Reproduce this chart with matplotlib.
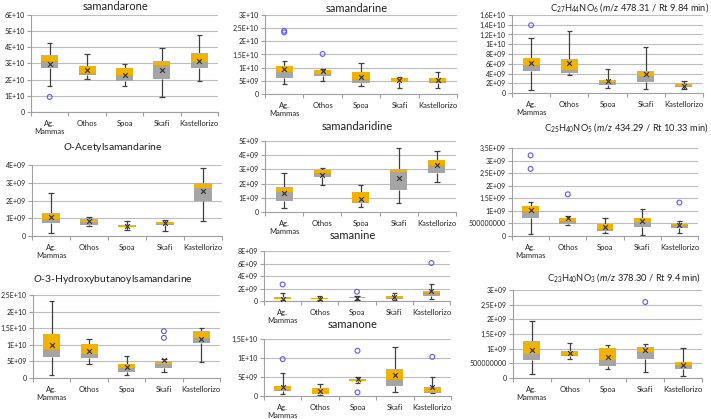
import matplotlib
matplotlib.use("Agg")
import matplotlib.pyplot as plt
import numpy as np

plt.rcParams['font.family'] = ['Lato', 'DejaVu Sans']
plt.rcParams['mathtext.fontset'] = 'custom'
plt.rcParams['mathtext.rm'] = 'Lato'
plt.rcParams['mathtext.it'] = 'Lato:italic'

sites = ["Ag.\nMammas", "Othos", "Spoa", "Skafi", "Kastellorizo"]

# each row: whisker low, Q1, median, Q3, whisker high, mean  (units of 1e9)
samandarone = [[16.0, 27.4, 31.5, 35.3, 42.9, 29.9],
               [20.2, 22.9, 23.9, 28.5, 35.7, 26.2],
               [16.1, 19.2, 22.9, 27.0, 29.5, 22.7],
               [9.5, 20.4, 28.9, 31.5, 39.4, 26.0],
               [19.4, 27.0, 31.1, 36.3, 47.6, 31.3]]
samandarone_out = [[9.3], [], [], [], []]

samandarine = [[3.8, 6.1, 8.5, 10.7, 12.6, 9.5],
               [4.8, 6.7, 7.6, 9.1, 9.4, 8.6],
               [3.0, 4.3, 5.6, 8.3, 11.7, 6.6],
               [2.2, 4.4, 4.7, 6.0, 6.6, 5.3],
               [2.2, 4.3, 5.1, 6.0, 8.3, 5.3]]
samandarine_out = [[24.0, 23.4], [15.2], [], [], []]

c27 = [[0.55, 4.5, 5.7, 7.2, 11.2, 6.2],
       [3.65, 4.1, 4.7, 7.0, 12.8, 6.2],
       [1.1, 1.72, 2.28, 2.76, 5.0, 2.4],
       [0.9, 2.28, 3.45, 4.5, 9.5, 3.8],
       [0.9, 1.24, 1.45, 1.8, 2.48, 1.52]]
c27_out = [[13.9], [], [], [], []]

acetyl = [[0.17, 0.75, 0.98, 1.32, 2.4, 1.09],
          [0.55, 0.62, 0.79, 0.96, 1.08, 0.85],
          [0.34, 0.49, 0.53, 0.60, 0.83, 0.55],
          [0.28, 0.62, 0.70, 0.81, 0.92, 0.74],
          [0.83, 1.98, 2.72, 2.96, 3.81, 2.55]]
acetyl_out = [[], [], [], [], []]

samandaridine = [[0.26, 0.75, 1.43, 1.75, 2.73, 1.33],
                 [1.87, 2.43, 2.78, 2.97, 3.13, 2.64],
                 [0.35, 0.63, 0.68, 1.38, 1.87, 0.93],
                 [0.63, 1.52, 2.85, 3.01, 4.49, 2.38],
                 [2.10, 2.78, 3.32, 3.67, 4.32, 3.29]]
samandaridine_out = [[], [], [], [], []]

c25 = [[0.07, 0.73, 0.98, 1.18, 1.35, 1.05],
       [0.42, 0.49, 0.58, 0.73, 0.78, 0.72],
       [0.12, 0.19, 0.29, 0.49, 0.72, 0.36],
       [0.05, 0.37, 0.54, 0.73, 1.09, 0.60],
       [0.12, 0.32, 0.42, 0.49, 0.58, 0.45]]
c25_out = [[3.21, 2.67], [1.66], [], [], [1.33]]

hydroxy = [[0.8, 6.2, 8.6, 13.3, 23.1, 10.0],
           [4.3, 6.0, 7.2, 10.3, 11.8, 8.0],
           [0.8, 1.9, 3.1, 4.2, 6.5, 3.3],
           [1.8, 3.1, 4.3, 5.0, 5.6, 5.3],
           [4.8, 10.5, 12.0, 14.3, 15.0, 11.8]]
hydroxy_out = [[], [], [], [14.1, 12.1], []]

samanine = [[0.1, 0.3, 0.4, 0.65, 1.32, 0.37],
            [0.11, 0.26, 0.37, 0.48, 0.74, 0.37],
            [0.16, 0.48, 0.53, 0.58, 0.79, 0.45],
            [0.16, 0.32, 0.48, 0.74, 1.32, 0.58],
            [0.37, 0.85, 1.32, 1.59, 2.70, 1.64]]
samanine_out = [[2.65], [], [1.48], [], [6.08]]

samanone = [[0.44, 1.4, 1.6, 2.6, 6.0, 2.3],
            [0.3, 0.4, 0.5, 2.0, 3.2, 1.3],
            [3.5, 3.9, 4.0, 4.4, 5.1, 4.6],
            [0.96, 2.6, 4.4, 7.0, 12.8, 5.5],
            [0.7, 0.88, 1.1, 2.3, 5.1, 2.5]]
samanone_out = [[9.7], [], [11.9, 0.96], [], [10.3]]

c23 = [[0.15, 0.60, 0.82, 1.25, 1.95, 0.95],
       [0.66, 0.74, 0.78, 0.93, 1.21, 0.86],
       [0.32, 0.40, 0.63, 1.03, 1.12, 0.72],
       [0.21, 0.65, 0.87, 1.06, 1.17, 0.95],
       [0.07, 0.29, 0.43, 0.55, 1.03, 0.43]]
c23_out = [[], [], [], [2.59], []]

panels = [
    ("samandarone", samandarone, samandarone_out, 60, 10,
     ["0", "1E+10", "2E+10", "3E+10", "4E+10", "5E+10", "6E+10"]),
    ("samandarine", samandarine, samandarine_out, 30, 5,
     ["0", "5E+09", "1E+10", "1,5E+10", "2E+10", "2,5E+10", "3E+10"]),
    (r"C$_{27}$H$_{44}$NO$_6$ ($m/z$ 478.31 / Rt 9.84 min)", c27, c27_out, 16, 2,
     ["0", "2E+09", "4E+09", "6E+09", "8E+09", "1E+10", "1,2E+10", "1,4E+10", "1,6E+10"]),
    (r"$O$-Acetylsamandarine", acetyl, acetyl_out, 4, 1,
     ["0", "1E+09", "2E+09", "3E+09", "4E+09"]),
    ("samandaridine", samandaridine, samandaridine_out, 5, 1,
     ["0", "1E+09", "2E+09", "3E+09", "4E+09", "5E+09"]),
    (r"C$_{25}$H$_{40}$NO$_5$ ($m/z$ 434.29 / Rt 10.33 min)", c25, c25_out, 3.5, 0.5,
     ["0", "500000000", "1E+09", "1,5E+09", "2E+09", "2,5E+09", "3E+09", "3,5E+09"]),
    (r"$O$-3-Hydroxybutanoylsamandarine", hydroxy, hydroxy_out, 25, 5,
     ["0", "5E+09", "1E+10", "1,5E+10", "2E+10", "2,5E+10"]),
    ("samanine", samanine, samanine_out, 8, 2,
     ["0", "2E+09", "4E+09", "6E+09", "8E+09"]),
    ("samanone", samanone, samanone_out, 15, 5,
     ["0", "5E+09", "1E+10", "1,5E+10"]),
    (r"C$_{23}$H$_{40}$NO$_3$ ($m/z$ 378.30 / Rt 9.4 min)", c23, c23_out, 3, 0.5,
     ["0", "500000000", "1E+09", "1,5E+09", "2E+09", "2,5E+09", "3E+09"]),
]

# pixel layout: axis left, right, top, zero line, title x, title y, title size
layout = [
    (31, 218, 15, 112, 116, 7, 8),
    (265, 457, 15, 94, 357, 8, 8),
    (512, 703, 15, 93, 630, 8, 6.7),
    (32, 222, 165, 236, 113, 147, 7.5),
    (265, 456, 141, 212, 357, 126, 8),
    (512, 698, 148, 236, 626, 128, 6.7),
    (33, 220, 295, 378, 113, 279, 7.5),
    (264, 450, 251, 301, 353, 235, 8),
    (264, 451, 339, 396, 353, 324, 8),
    (513, 702, 290, 378, 624, 278, 6.7),
]

W, H = 711, 419
GOLD = '#F2B200'
GRAY = '#A5A5A5'
DARK = '#404040'
BLUE = '#5A5AF5'

fig = plt.figure(figsize=(W / 100, H / 100), dpi=100)
fig.patch.set_facecolor('white')

for (title, stats, outl, ymax, step, ylabels), (l, r, t, b, tx, ty, tsz) in zip(panels, layout):
    ax = fig.add_axes([l / W, 1 - b / H, (r - l) / W, (b - t) / H])
    s = np.array(stats) * 1e9
    x = np.arange(len(sites))
    ax.bar(x, s[:, 2] - s[:, 1], bottom=s[:, 1], width=0.45, color=GRAY, zorder=3)
    ax.bar(x, s[:, 3] - s[:, 2], bottom=s[:, 2], width=0.45, color=GOLD, zorder=3)
    ax.vlines(x, s[:, 0], s[:, 1], color=DARK, lw=0.9, zorder=2)
    ax.vlines(x, s[:, 3], s[:, 4], color=DARK, lw=0.9, zorder=2)
    ax.hlines(s[:, 0], x - 0.07, x + 0.07, color=DARK, lw=0.9, zorder=2)
    ax.hlines(s[:, 4], x - 0.07, x + 0.07, color=DARK, lw=0.9, zorder=2)
    ax.scatter(x, s[:, 5], marker='x', s=12, color='#303030', lw=0.8, zorder=5)
    for i, o in enumerate(outl):
        if o:
            ax.scatter([i] * len(o), np.array(o) * 1e9, facecolors='none',
                       edgecolors=BLUE, s=12, lw=0.8, zorder=5)

    ax.set_xlim(-0.5, 4.5)
    ax.set_ylim(0, ymax * 1e9)
    yt = np.arange(len(ylabels)) * step * 1e9
    ax.set_yticks(yt)
    ax.set_yticklabels(ylabels, fontsize=5, color='#222222')
    ax.set_xticks(x)
    ax.set_xticklabels(sites, fontsize=5.5, color='#222222', linespacing=1.25)
    ax.set_xticks(np.arange(-0.5, 5, 1), minor=True)
    ax.tick_params(axis='x', which='major', length=0, pad=5.5)
    ax.tick_params(axis='x', which='minor', length=3, color='#A0A0A0', width=0.8)
    ax.tick_params(axis='y', length=3, color='#A0A0A0', width=0.8, pad=1.5)
    ax.grid(axis='y', color='#BDBDBD', lw=0.8, zorder=0)
    for sp in ['top', 'right']:
        ax.spines[sp].set_visible(False)
    for sp in ['left', 'bottom']:
        ax.spines[sp].set_color('#A0A0A0')
        ax.spines[sp].set_linewidth(0.8)
    ax.set_facecolor('none')

    fig.text(tx / W, 1 - ty / H, title, ha='center', va='center', fontsize=tsz, color='#222222')

fig.savefig("out.png", dpi=100, facecolor='white')
